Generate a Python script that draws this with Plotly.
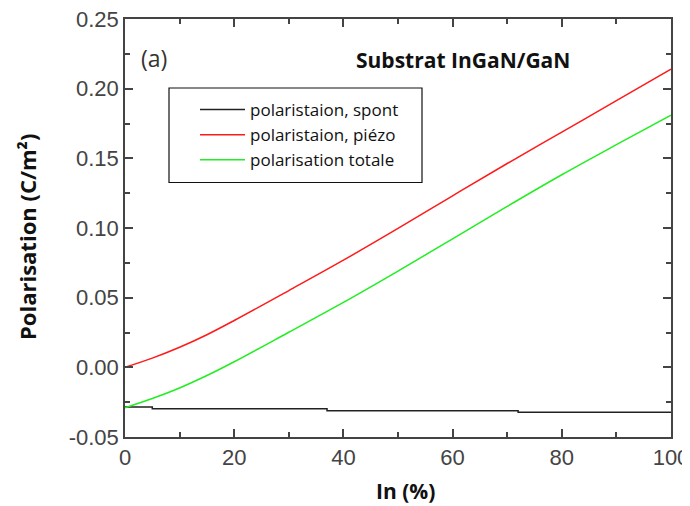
import plotly.graph_objects as go

# ---- data ----
x_in = [0, 5, 10, 15, 20, 30, 40, 50, 60, 70, 80, 90, 100]
p_piezo = [0.000, 0.0066, 0.0144, 0.0234, 0.0336, 0.0551, 0.0769, 0.0997, 0.1231, 0.1463, 0.1688, 0.1914, 0.214]
p_total = [-0.029, -0.0224, -0.0148, -0.0059, 0.004, 0.0252, 0.0466, 0.0691, 0.0922, 0.1155, 0.1382, 0.1598, 0.181]

x_spont = [0, 5, 5, 37, 37, 72, 72, 100]
p_spont = [-0.0285, -0.0285, -0.0298, -0.0298, -0.0312, -0.0312, -0.0322, -0.0322]

y_ticks = [-0.05, 0.00, 0.05, 0.10, 0.15, 0.20, 0.25]
y_ticktext = ["-0.05", "0.00", "0.05", "0.10", "0.15", "0.20", "0.25"]
x_ticks = [0, 20, 40, 60, 80, 100]

names = ["polaristaion, spont", "polaristaion, piézo", "polarisation totale"]

fig = go.Figure()
fig.add_trace(go.Scatter(x=x_spont, y=p_spont, mode="lines", name=names[0],
                         line=dict(color="#222222", width=1.5)))
fig.add_trace(go.Scatter(x=x_in, y=p_piezo, mode="lines", name=names[1], line_shape="spline",
                         line=dict(color="#ff1a1a", width=1.5)))
fig.add_trace(go.Scatter(x=x_in, y=p_total, mode="lines", name=names[2], line_shape="spline",
                         line=dict(color="#22ee22", width=1.5)))

axis_common = dict(showgrid=False, zeroline=False, showline=True, linecolor="#444444",
                   linewidth=1.5, mirror="ticks", ticks="inside", ticklen=8, tickwidth=1.5,
                   tickcolor="#444444", automargin=False, ticklabeloverflow="allow",
                   tickfont=dict(family="Liberation Sans, Arial", size=22, color="#444444"))

fig.update_xaxes(range=[0, 100], tickvals=x_ticks,
                 minor=dict(ticks="inside", ticklen=5, tickwidth=1.5, tickcolor="#444444", dtick=10),
                 **axis_common)
fig.update_yaxes(range=[-0.05, 0.25], tickvals=y_ticks, ticktext=y_ticktext,
                 minor=dict(ticks="inside", ticklen=5, tickwidth=1.5, tickcolor="#444444",
                            tickvals=[-0.025, 0.025, 0.075, 0.125, 0.175, 0.225]),
                 **axis_common)

# page body has an 8px margin: shrink the figure so the plot area lands where the reference has it
X0, Y0, PW, PH = 125, 437, 546, 418  # plot area in page pixels


def px(x):
    return (x - X0) / PW


def py(y):
    return (Y0 - y) / PH


fig.update_layout(
    width=682, height=498,
    margin=dict(l=117, r=19, t=11, b=69),
    paper_bgcolor="white", plot_bgcolor="white",
    showlegend=True,
    legend=dict(x=px(195), y=py(92), xanchor="left", yanchor="top",
                bgcolor="rgba(0,0,0,0)", borderwidth=0,
                font=dict(family="Open Sans", size=17, color="#111111"),
                tracegroupgap=0, itemwidth=45),
    shapes=[dict(type="rect", xref="paper", yref="paper",
                 x0=px(169), x1=px(422), y0=py(182.5), y1=py(88),
                 line=dict(color="#111111", width=1.2), fillcolor="rgba(0,0,0,0)")],
    annotations=[
        dict(text="(a)", xref="paper", yref="paper", x=px(139), y=py(58),
             xanchor="left", yanchor="middle", showarrow=False,
             font=dict(family="Open Sans", size=23, color="#333333")),
        dict(text="<b>Substrat InGaN/GaN</b>", xref="paper", yref="paper",
             x=px(463), y=py(60), xanchor="center", yanchor="middle",
             showarrow=False, font=dict(family="Open Sans", size=21, color="#111111")),
        dict(text="<b>In (%)</b>", xref="paper", yref="paper",
             x=px(405), y=py(491), xanchor="center", yanchor="middle",
             showarrow=False, font=dict(family="Open Sans", size=21, color="#111111")),
        dict(text="<b>Polarisation (C/m²)</b>", xref="paper", yref="paper", textangle=-90,
             x=px(27), y=py(237), xanchor="center", yanchor="middle",
             showarrow=False, font=dict(family="Open Sans", size=22, color="#111111")),
    ],
)

fig.write_html("out.html")
